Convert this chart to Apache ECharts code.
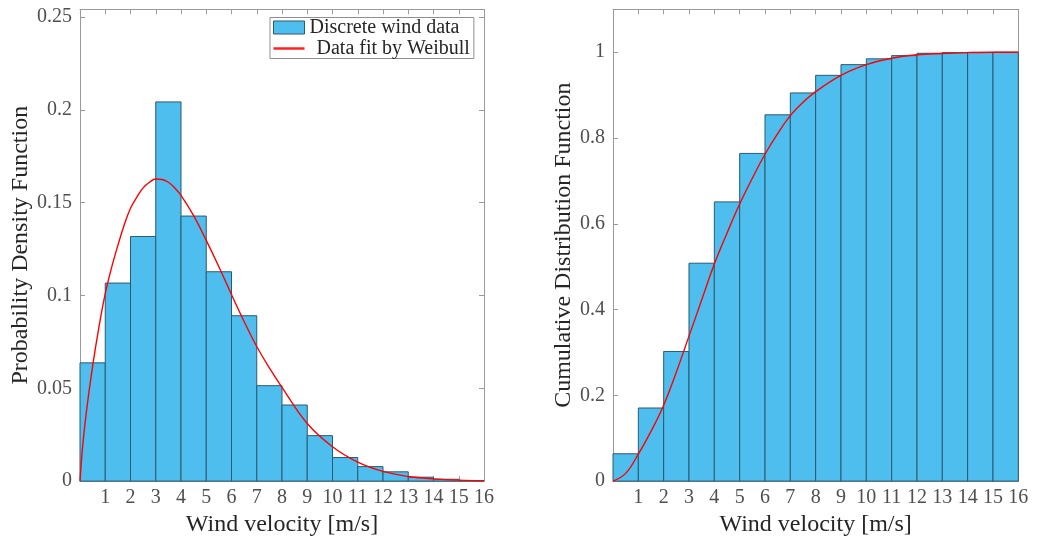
<!DOCTYPE html>
<html>
<head>
<meta charset="utf-8">
<script src="https://cdn.jsdelivr.net/npm/echarts@6/dist/echarts.min.js"></script>
<style>
  html, body { margin: 0; padding: 0; background: #fff; }
  #chart { width: 1037px; height: 542px; }
</style>
</head>
<body>
<div id="chart"></div>
<script>
// Histogram bins of wind velocity (m/s), one unit wide
const binStarts = [0, 1, 2, 3, 4, 5, 6, 7, 8, 9, 10, 11, 12, 13, 14, 15];
const binWidth = 1;

// Relative frequency of each bin (probability density)
const pdfBars = [0.0637, 0.1067, 0.1318, 0.2043, 0.1428, 0.1128, 0.0891, 0.0514,
                 0.0410, 0.0245, 0.0127, 0.0078, 0.0050, 0.0021, 0.0010, 0.0003];

// Cumulative frequency of each bin
const cdfBars = [0.0637, 0.1704, 0.3022, 0.508, 0.651, 0.764, 0.854, 0.905,
                 0.946, 0.971, 0.9845, 0.992, 0.9975, 0.999, 0.9995, 1.0];

// Fitted Weibull density, sampled along the velocity axis
const fitX   = [0, 0.1, 0.25, 0.5, 0.75, 1.0, 1.25, 1.5, 1.75, 2.0, 2.25, 2.5, 2.75, 3.0,
                3.25, 3.5, 3.75, 4.0, 4.5, 5.0, 5.5, 6.0, 6.5, 7.0, 7.5, 8.0, 9.0, 10.0,
                11.0, 12.0, 13.0, 14.0, 15.0, 16.0];
const fitPdf = [0, 0.018, 0.037, 0.062, 0.083, 0.101, 0.115, 0.127, 0.138, 0.147, 0.153,
                0.158, 0.161, 0.1628, 0.1625, 0.161, 0.158, 0.154, 0.143, 0.1297, 0.1155,
                0.1005, 0.086, 0.0725, 0.061, 0.0505, 0.031, 0.0185, 0.0102, 0.0052,
                0.0025, 0.0012, 0.0005, 0.0002];

// Fitted Weibull cumulative distribution
const fitCdfX = [0, 0.5, 1.0, 1.5, 2.0, 2.5, 3.0, 3.5, 4.0, 4.5, 5.0, 5.5, 6.0, 6.5, 7.0,
                 7.5, 8.0, 9.0, 10.0, 11.0, 12.0, 13.0, 14.0, 15.0, 16.0];
const fitCdf  = [0, 0.018, 0.063, 0.116, 0.177, 0.254, 0.338, 0.422, 0.506, 0.578, 0.646,
                 0.706, 0.762, 0.81, 0.852, 0.883, 0.908, 0.946, 0.971, 0.986, 0.994,
                 0.997, 0.999, 1.0, 1.0];

const xTickLabels = ['', '1', '2', '3', '4', '5', '6', '7', '8', '9', '10', '11', '12', '13', '14', '15', '16'];

const FONT = 'Liberation Serif';
const BAR_COLOR = '#4DBEEE';
const BAR_EDGE = '#2b5b70';
const AXIS_COLOR = '#9a9a9a';
const TICK_TEXT = '#4f4f4f';
const TITLE_TEXT = '#262626';

const chart = echarts.init(document.getElementById('chart'), null, { renderer: 'canvas' });

function barData(values) {
  return binStarts.map((x0, i) => [x0, x0 + binWidth, values[i]]);
}

function renderBin(params, api) {
  const top = api.coord([api.value(0), api.value(2)]);
  const bottom = api.coord([api.value(1), 0]);
  return {
    type: 'rect',
    shape: { x: top[0], y: top[1], width: bottom[0] - top[0], height: bottom[1] - top[1] },
    style: api.style()
  };
}

function xAxes(gridIndex) {
  const common = {
    type: 'value', gridIndex, min: 0, max: 16, interval: 1,
    axisLine: { show: true, onZero: false, lineStyle: { color: AXIS_COLOR, width: 1 } },
    axisTick: { show: true, inside: true, length: 5, lineStyle: { color: AXIS_COLOR } },
    splitLine: { show: false }
  };
  return [
    Object.assign({}, common, {
      position: 'bottom',
      name: 'Wind velocity [m/s]',
      nameLocation: 'middle',
      nameGap: 25,
      nameTextStyle: { fontFamily: FONT, fontSize: 24, color: TITLE_TEXT },
      axisLabel: {
        fontFamily: FONT, fontSize: 20, color: TICK_TEXT, margin: 7,
        formatter: v => xTickLabels[Math.round(v)] || ''
      }
    }),
    Object.assign({}, common, { position: 'top', axisLabel: { show: false } })
  ];
}

// Only label values that fall on the regular tick spacing (the axis end is unlabeled)
function onStep(v, step) {
  const k = v / step;
  return Math.abs(k - Math.round(k)) < 1e-6;
}

function yAxes(gridIndex, max, interval, name, nameGap, fmt) {
  const common = {
    type: 'value', gridIndex, min: 0, max, interval,
    axisLine: { show: true, onZero: false, lineStyle: { color: AXIS_COLOR, width: 1 } },
    axisTick: { show: true, inside: true, length: 5, lineStyle: { color: AXIS_COLOR } },
    splitLine: { show: false }
  };
  return [
    Object.assign({}, common, {
      position: 'left',
      name,
      nameLocation: 'middle',
      nameGap,
      nameRotate: 90,
      nameTextStyle: { fontFamily: FONT, fontSize: 24, color: TITLE_TEXT },
      axisLabel: {
        fontFamily: FONT, fontSize: 20, color: TICK_TEXT, margin: 8,
        formatter: v => (onStep(v, interval) ? fmt(v) : '')
      }
    }),
    Object.assign({}, common, { position: 'right', axisLabel: { show: false } })
  ];
}

const fmtNum = v => {
  if (Math.abs(v) < 1e-9) return '0';
  return String(+v.toFixed(2));
};

const option = {
  animation: false,
  backgroundColor: '#ffffff',
  grid: [
    { left: 80, top: 9.3, width: 404, height: 481.4 },
    { left: 613, top: 9.3, width: 405.3, height: 481.4 }
  ],
  xAxis: [...xAxes(0), ...xAxes(1)],
  yAxis: [
    ...yAxes(0, 0.2542, 0.05, 'Probability Density Function', 46, fmtNum),
    ...yAxes(1, 1.1, 0.2, 'Cumulative Distribution Function', 37, fmtNum)
  ],
  legend: {
    left: 270,
    top: 17.5,
    orient: 'vertical',
    itemWidth: 31,
    itemHeight: 13,
    itemGap: 1,
    padding: [0, 4, 0, 3],
    borderColor: '#8f8f8f',
    borderWidth: 1,
    backgroundColor: '#ffffff',
    selectedMode: false,
    textStyle: {
      fontFamily: FONT, fontSize: 20, color: TITLE_TEXT, lineHeight: 16,
      rich: { shifted: { fontFamily: FONT, fontSize: 20, color: TITLE_TEXT, lineHeight: 16, padding: [0, 0, 0, 7] } }
    },
    formatter: name => name === 'Data fit by Weibull' ? '{shifted|' + name + '}' : name,
    data: [
      { name: 'Discrete wind data', icon: 'rect', itemStyle: { color: BAR_COLOR, borderColor: BAR_EDGE, borderWidth: 1 } },
      { name: 'Data fit by Weibull', icon: 'path://M0,0 L10,0 L10,0.8 L0,0.8 Z', itemStyle: { color: '#ff2020' } }
    ]
  },
  series: [
    {
      name: 'Discrete wind data',
      type: 'custom',
      xAxisIndex: 0, yAxisIndex: 0,
      renderItem: renderBin,
      encode: { x: [0, 1], y: 2 },
      itemStyle: { color: BAR_COLOR, borderColor: BAR_EDGE, borderWidth: 1 },
      data: barData(pdfBars),
      z: 2
    },
    {
      name: 'Data fit by Weibull',
      type: 'line',
      xAxisIndex: 0, yAxisIndex: 0,
      showSymbol: false,
      symbol: 'none',
      smooth: 0.4,
      lineStyle: { color: '#ff0000', width: 1.4 },
      itemStyle: { color: '#ff0000' },
      data: fitX.map((x, i) => [x, fitPdf[i]]),
      z: 5
    },
    {
      name: 'Cumulative bins',
      type: 'custom',
      xAxisIndex: 2, yAxisIndex: 2,
      renderItem: renderBin,
      encode: { x: [0, 1], y: 2 },
      itemStyle: { color: BAR_COLOR, borderColor: BAR_EDGE, borderWidth: 1 },
      data: barData(cdfBars),
      z: 2
    },
    {
      name: 'Cumulative fit',
      type: 'line',
      xAxisIndex: 2, yAxisIndex: 2,
      showSymbol: false,
      symbol: 'none',
      smooth: 0.4,
      lineStyle: { color: '#ff0000', width: 1.4 },
      data: fitCdfX.map((x, i) => [x, fitCdf[i]]),
      z: 5
    }
  ]
};

chart.setOption(option);
</script>
</body>
</html>
